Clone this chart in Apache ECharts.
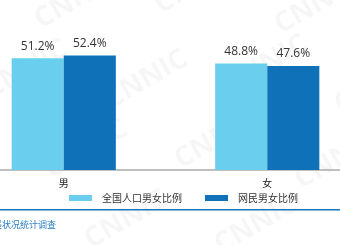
<!DOCTYPE html>
<html><head><meta charset="utf-8">
<script src="https://cdn.jsdelivr.net/npm/echarts@6/dist/echarts.min.js"></script>
<style>html,body{margin:0;padding:0;background:#fff;overflow:hidden;width:340px;height:245px}#c{position:absolute;left:-38px;top:0;width:407px;height:245px}</style>
</head><body><div id="c"></div>
<script>
const categories = ['男', '女'];
const seriesNames = ['全国人口男女比例', '网民男女比例'];
const populationValues = [51.2, 48.8];
const netizenValues = [52.4, 47.6];
const sourceText = '来源：CNNIC 中国互联网络发展状况统计调查';

const OX = 38;
const chart = echarts.init(document.getElementById('c'));
const wm = [];
const wmPos = [[30,10],[150,-5],[270,15],[-20,80],[100,90],[220,75],[330,95],[40,160],[170,150],[290,170],[80,230],[210,235]];
wmPos.forEach(p => wm.push({type:'text', x:p[0]+OX, y:p[1], rotation: Math.PI/6, z:-10,
  style:{text:'CNNIC', fill:'rgba(0,0,0,0.035)', font:'bold 28px "Open Sans", sans-serif'}}));

chart.setOption({
  animation: false,
  grid: {left: 0, right: 0, top: 39, bottom: 75},
  legend: {
    data: seriesNames, left: 64 + OX, top: 188, itemWidth: 23, itemHeight: 6, itemGap: 23,
    icon: 'rect',
    textStyle: {fontSize: 10, color: '#333', padding: [0,0,0,5], fontFamily: '"Noto Sans CJK SC", sans-serif'}
  },
  xAxis: {
    type: 'category', data: categories,
    axisLine: {lineStyle: {color: '#aaa', width: 1.5}},
    axisTick: {show: false},
    axisLabel: {fontSize: 10, color: '#222', margin: 8, fontFamily: '"Noto Sans CJK SC", sans-serif'}
  },
  yAxis: {type: 'value', min: 0, max: 60, show: false, splitLine: {show: false}},
  series: [
    {name: seriesNames[0], type: 'bar', data: populationValues, barGap: '0%', barCategoryGap: '48.8%',
     itemStyle: {color: '#6acfee'},
     label: {show: true, position: 'top', distance: 6, formatter: '{c}%', fontSize: 12, color: '#333', fontFamily: '"Open Sans", sans-serif'}},
    {name: seriesNames[1], type: 'bar', data: netizenValues,
     itemStyle: {color: '#0f72b8'},
     label: {show: true, position: 'top', distance: 6, formatter: '{c}%', fontSize: 12, color: '#333', fontFamily: '"Open Sans", sans-serif'}}
  ],
  graphic: wm.concat([
    {type: 'rect', shape: {x: OX, y: 209, width: 340, height: 1.5}, style: {fill: '#1a74bb'}},
    {type: 'text', x: 56 + OX, y: 220, style: {text: sourceText, fill: '#2a80c6', font: '9px "Noto Sans CJK SC", sans-serif', textAlign: 'right'}}
  ])
});
</script></body></html>
